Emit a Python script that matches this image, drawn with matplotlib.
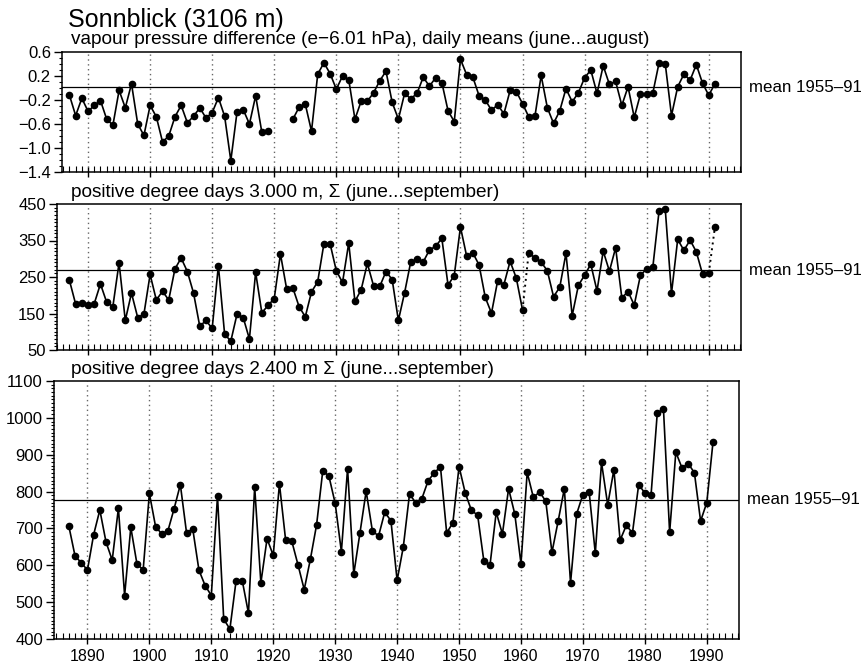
import numpy as np
import matplotlib
matplotlib.use('Agg')
import matplotlib.pyplot as plt
from matplotlib.ticker import MultipleLocator

plt.rcParams['font.family'] = ['Liberation Sans', 'DejaVu Sans']

# years 1887..1991
years = list(range(1887, 1992))

# vapour pressure difference (e-6.01 hPa), no data 1920-1922
vapour = [-0.12, -0.46, -0.17, -0.39, -0.29, -0.21, -0.52, -0.62, -0.04, -0.33,
          0.07, -0.60, -0.79, -0.29, -0.48, -0.90, -0.80, -0.48, -0.29, -0.58,
          -0.47, -0.33, -0.50, -0.41, -0.16, -0.47, -1.21, -0.40, -0.36, -0.60,
          -0.13, -0.74, -0.72, np.nan, np.nan, np.nan, -0.52, -0.32, -0.27, -0.72,
          0.23, 0.42, 0.24, -0.02, 0.20, 0.14, -0.52, -0.22, -0.22, -0.08,
          0.12, 0.28, -0.24, -0.52, -0.09, -0.18, -0.09, 0.18, 0.03, 0.17,
          0.09, -0.38, -0.56, 0.48, 0.22, 0.18, -0.13, -0.20, -0.37, -0.28,
          -0.43, -0.04, -0.06, -0.26, -0.48, -0.47, 0.21, -0.33, -0.59, -0.38,
          -0.01, -0.23, -0.08, 0.17, 0.30, -0.09, 0.37, 0.06, 0.11, -0.29,
          0.02, -0.49, -0.10, -0.10, -0.08, 0.42, 0.40, -0.46, 0.02, 0.23,
          0.13, 0.39, 0.08, -0.12, 0.07]

# positive degree days 3000 m
pdd3000 = [241, 176, 180, 174,
           177, 231, 181, 169, 289, 131, 206, 139, 148, 257,
           187, 211, 187, 272, 302, 265, 206, 115, 131, 109,
           281, 94, 74, 148, 139, 80, 263, 152, 172, 191,
           313, 217, 220, 169, 141, 209, 237, 341, 341, 267,
           235, 343, 183, 215, 287, 226, 224, 265, 243, 131,
           207, 292, 298, 291, 324, 334, 356, 228, 254, 387,
           307, 316, 283, 194, 151, 240, 229, 293, 247, 160,
           317, 302, 291, 267, 196, 222, 315, 144, 227, 255,
           285, 212, 321, 266, 330, 193, 210, 173, 255, 272,
           278, 431, 435, 205, 353, 323, 351, 319, 258, 260,
           387]
pdd3000_dotted = [(1960, 1961), (1990, 1991)]

# positive degree days 2400 m
pdd2400 = [706, 625, 607, 587,
           683, 750, 663, 614, 755, 518, 703, 603, 588, 795,
           705, 685, 694, 754, 819, 688, 699, 587, 545, 518,
           788, 454, 427, 558, 558, 470, 813, 552, 672, 627,
           821, 668, 665, 601, 534, 617, 710, 857, 841, 768,
           637, 862, 576, 688, 801, 694, 679, 744, 721, 559,
           650, 793, 770, 781, 829, 851, 867, 688, 715, 868,
           796, 749, 736, 612, 601, 744, 685, 808, 739, 604,
           852, 784, 799, 774, 635, 720, 808, 552, 740, 792,
           800, 632, 879, 764, 859, 668, 708, 688, 819, 796,
           791, 1012, 1025, 689, 907, 864, 876, 851, 720, 770,
           934]

means = [0.01, 268, 778]
mean_label = 'mean 1955\u201391'

titles = ['vapour pressure difference (e\u22126.01 hPa), daily means (june...august)',
          'positive degree days 3.000 m, \u03a3 (june...september)',
          'positive degree days 2.400 m \u03a3 (june...september)']
ylims = [(-1.4, 0.6), (50, 450), (400, 1100)]
yticks = [[0.6, 0.2, -0.2, -0.6, -1.0, -1.4], [450, 350, 250, 150, 50],
          [1100, 1000, 900, 800, 700, 600, 500, 400]]
yminor = [0.1, 10, 10]
xstart = [1885.8, 1885.0, 1884.6]
decades = [1890, 1900, 1910, 1920, 1930, 1940, 1950, 1960, 1970, 1980, 1990]

W, H = 862, 672
fig = plt.figure(figsize=(W / 100, H / 100), dpi=100)
# panel boxes in pixels: left, top, right, bottom
boxes = [(62, 52, 741, 172), (57, 204, 741, 350), (54, 381, 739, 639)]
title_base = [44, 197, 374]  # subtitle baselines in pixels
series = [vapour, pdd3000, pdd2400]

for i, (box, y) in enumerate(zip(boxes, series)):
    l, t, r, b = box
    ax = fig.add_axes([l / W, 1 - b / H, (r - l) / W, (b - t) / H])
    yr = np.array(years)
    yv = np.array(y, dtype=float)
    for d in decades:
        ax.axvline(d, color='0.4', lw=1.0, ls=(0, (1, 2.5)), zorder=1)
    ax.axhline(means[i], color='black', lw=0.9, zorder=2)
    if i == 1:
        # solid pieces, with the dotted links drawn separately
        breaks = [years.index(e) for s, e in pdd3000_dotted]
        start = 0
        for e in breaks + [len(years)]:
            ax.plot(yr[start:e], yv[start:e], color='black', lw=1.2, zorder=3)
            start = e
        for s, e in pdd3000_dotted:
            ia, ib = years.index(s), years.index(e)
            ax.plot([yr[ia], yr[ib]], [yv[ia], yv[ib]], color='black',
                    lw=1.4, ls=(0, (1, 2)), zorder=3)
    else:
        ax.plot(yr, yv, color='black', lw=1.2, zorder=3)
    ax.plot(yr, yv, 'o', color='black', ms=4.5, zorder=4)

    ax.set_xlim(xstart[i], 1995.2)
    ax.set_ylim(*ylims[i])
    ax.set_yticks(yticks[i])
    ax.yaxis.set_minor_locator(MultipleLocator(yminor[i]))
    ax.set_xticks(decades)
    ax.xaxis.set_minor_locator(MultipleLocator(1))
    ax.tick_params(axis='x', which='major', direction='inout', length=7, width=1)
    ax.tick_params(axis='x', which='minor', direction='in', length=4, width=0.8)
    ax.tick_params(axis='y', which='major', direction='out', length=6, width=1,
                   labelsize=12, pad=2)
    ax.tick_params(axis='y', which='minor', direction='out', length=2.5, width=0.8)
    if i == 0:
        ax.yaxis.set_major_formatter(plt.FuncFormatter(
            lambda v, p: ('%.1f' % v).replace('-', '\u2212')))
    if i < 2:
        ax.tick_params(axis='x', labelbottom=False)
    else:
        ax.tick_params(axis='x', labelsize=11.5, pad=4)
    for s in ax.spines.values():
        s.set_linewidth(1.1)

    fig.text(71 / W, 1 - title_base[i] / H, titles[i], fontsize=13.7,
             ha='left', va='baseline')
    ax.annotate(mean_label, xy=(1.0, means[i]), xycoords=('axes fraction', 'data'),
                xytext=(6, 0), textcoords='offset points', fontsize=12.2,
                ha='left', va='center', annotation_clip=False)

fig.text(68 / W, 1 - 27 / H, 'Sonnblick (3106 m)', fontsize=18,
         ha='left', va='baseline')

fig.savefig('out.png', dpi=100)
